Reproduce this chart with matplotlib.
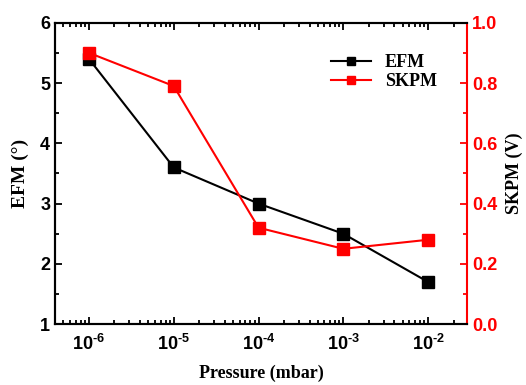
import matplotlib
matplotlib.use("Agg")
import matplotlib.pyplot as plt
from matplotlib.ticker import MultipleLocator, LogLocator, NullFormatter, FuncFormatter
import numpy as np

pressure = [1e-6, 1e-5, 1e-4, 1e-3, 1e-2]
efm = [5.4, 3.6, 3.0, 2.5, 1.7]
skpm = [0.90, 0.79, 0.32, 0.25, 0.28]

TICK_FONT = "Liberation Sans"
LABEL_FONT = "Liberation Serif"

plt.rcParams["axes.unicode_minus"] = False
plt.rcParams["mathtext.fontset"] = "custom"
plt.rcParams["mathtext.rm"] = "Liberation Sans:bold"
plt.rcParams["mathtext.bf"] = "Liberation Sans:bold"

fig = plt.figure(figsize=(5.26, 3.85), dpi=100)
ax = fig.add_axes([0.1046, 0.158, 0.7834, 0.783])
ax2 = ax.twinx()

ax.plot(pressure, efm, color="black", lw=1.5, marker="s", ms=8, label="EFM", zorder=3)
ax2.plot(pressure, skpm, color="red", lw=1.5, marker="s", ms=8, label="SKPM", zorder=2)

ax.set_xscale("log")
ax.set_xlim(10 ** -6.4, 10 ** -1.54)
ax.set_ylim(1, 6)
ax2.set_ylim(0, 1.0)

ax.xaxis.set_major_locator(LogLocator(base=10, numticks=10))
ax.xaxis.set_major_formatter(FuncFormatter(
    lambda v, p: r"$\mathregular{10^{\text{-}%d}}$" % abs(int(round(np.log10(v))))))
ax.xaxis.set_minor_locator(LogLocator(base=10, subs=range(2, 10), numticks=20))
ax.xaxis.set_minor_formatter(NullFormatter())
ax.yaxis.set_major_locator(MultipleLocator(1))
ax.yaxis.set_minor_locator(MultipleLocator(0.5))
ax2.yaxis.set_major_locator(MultipleLocator(0.2))
ax2.yaxis.set_minor_locator(MultipleLocator(0.1))
ax2.yaxis.set_major_formatter(FuncFormatter(lambda v, p: f"{v:.1f}"))

ax.tick_params(axis="x", which="both", direction="in", top=True, width=1.3)
ax.tick_params(axis="x", which="major", length=5, pad=7)
ax.tick_params(axis="x", which="minor", length=3)
ax.tick_params(axis="y", which="both", direction="in", right=False, width=1.3)
ax.tick_params(axis="y", which="major", length=5)
ax.tick_params(axis="y", which="minor", length=3)
ax2.tick_params(axis="y", which="both", direction="in", colors="red", width=1.3)
ax2.tick_params(axis="y", which="major", length=5)
ax2.tick_params(axis="y", which="minor", length=3)

for lab in ax.get_xticklabels() + ax.get_yticklabels():
    lab.set_fontfamily(TICK_FONT)
    lab.set_fontweight("bold")
    lab.set_fontsize(13)
for lab in ax2.get_yticklabels():
    lab.set_fontfamily(TICK_FONT)
    lab.set_fontweight("bold")
    lab.set_fontsize(13)
    lab.set_color("red")

for s in ax.spines.values():
    s.set_linewidth(1.5)
for s in ax2.spines.values():
    s.set_linewidth(1.5)
ax2.spines["right"].set_color("red")
ax.spines["right"].set_visible(False)

ax.set_xlabel("Pressure (mbar)", fontfamily=LABEL_FONT, fontweight="bold", fontsize=13, labelpad=8)
ax.set_ylabel("EFM (°)", fontfamily=LABEL_FONT, fontweight="bold", fontsize=14, labelpad=8)
ax2.set_ylabel("SKPM (V)", fontfamily=LABEL_FONT, fontweight="bold", fontsize=13, labelpad=6)

h1, l1 = ax.get_legend_handles_labels()
h2, l2 = ax2.get_legend_handles_labels()
leg = ax2.legend(h1 + h2, l1 + l2, loc="upper left", bbox_to_anchor=(0.63, 0.95),
                 frameon=False, prop={"family": LABEL_FONT, "weight": "bold", "size": 13},
                 handlelength=2.2, markerscale=0.8, labelspacing=0.1)

fig.savefig("out.png", dpi=100)
